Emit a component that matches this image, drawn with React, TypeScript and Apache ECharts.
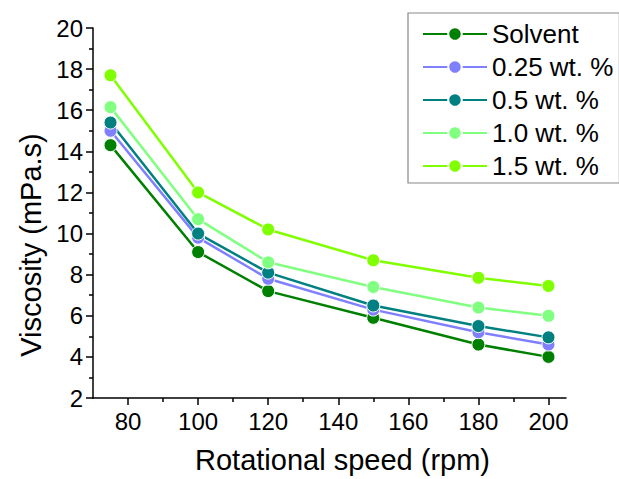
import React, { useEffect, useRef } from "react";
import * as echarts from "echarts";

const speeds = [75, 100, 120, 150, 180, 200];
const seriesNames = ["Solvent", "0.25 wt. %", "0.5 wt. %", "1.0 wt. %", "1.5 wt. %"];
const solvent = [14.3, 9.1, 7.2, 5.9, 4.6, 4.0];
const wt025 = [15.0, 9.8, 7.8, 6.3, 5.2, 4.6];
const wt05 = [15.4, 10.0, 8.1, 6.5, 5.5, 4.95];
const wt10 = [16.15, 10.7, 8.6, 7.4, 6.4, 6.0];
const wt15 = [17.7, 12.0, 10.2, 8.7, 7.85, 7.45];
const seriesValues = [solvent, wt025, wt05, wt10, wt15];
const colors = ["#008000", "#8080FF", "#008080", "#80FF80", "#80FF00"];
const xMajorTicks = [80, 100, 120, 140, 160, 180, 200];
const xMinorTicks = [90, 110, 130, 150, 170, 190];

const FONT = "'Liberation Sans', Arial, sans-serif";

export default function App() {
  const ref = useRef<HTMLDivElement>(null);
  useEffect(() => {
    if (!ref.current) return;
    const chart = echarts.init(ref.current, null, { renderer: "svg" });
    const axisLine = { show: true, onZero: false, lineStyle: { color: "#000", width: 1.5 } };
    chart.setOption({
      animation: false,
      backgroundColor: "#fff",
      textStyle: { fontFamily: FONT },
      grid: { left: 93, right: 53, top: 28, bottom: 78, containLabel: false },
      legend: {
        orient: "vertical",
        left: 408,
        top: 13,
        data: seriesNames,
        itemWidth: 64,
        itemHeight: 17,
        itemGap: 7,
        padding: [8, 6, 4, 14],
        borderColor: "#888",
        borderWidth: 1.2,
        textStyle: { fontSize: 26, color: "#000", fontFamily: FONT, lineHeight: 26 },
      },
      xAxis: [
        {
          type: "value",
          min: 70,
          max: 205,
          name: "Rotational speed (rpm)",
          nameLocation: "middle",
          nameGap: 47,
          nameTextStyle: { fontSize: 29, color: "#000", fontFamily: FONT, padding: [0, 0, 0, 26] },
          axisLine,
          axisTick: { show: true, length: 7, customValues: xMajorTicks, lineStyle: { color: "#000", width: 1.5 } },
          axisLabel: { show: true, customValues: xMajorTicks, fontSize: 24, color: "#000", margin: 11, fontFamily: FONT },
          splitLine: { show: false },
        },
        {
          type: "value",
          min: 70,
          max: 205,
          position: "bottom",
          axisLine: { show: false },
          axisTick: { show: true, length: 4, customValues: xMinorTicks, lineStyle: { color: "#000", width: 1.5 } },
          axisLabel: { show: false },
          splitLine: { show: false },
        },
      ],
      yAxis: {
        type: "value",
        min: 2,
        max: 20,
        interval: 2,
        name: "Viscosity (mPa.s)",
        nameLocation: "middle",
        nameGap: 46,
        nameTextStyle: { fontSize: 29, color: "#000", fontFamily: FONT, padding: [0, 64, 0, 0] },
        axisLine,
        axisTick: { show: true, length: 7, lineStyle: { color: "#000", width: 1.5 } },
        minorTick: { show: true, splitNumber: 2, length: 4, lineStyle: { color: "#000", width: 1.5 } },
        axisLabel: { fontSize: 24, color: "#000", margin: 10, fontFamily: FONT },
        splitLine: { show: false },
      },
      series: seriesNames.map((name, i) => ({
        name,
        type: "line",
        xAxisIndex: 0,
        data: speeds.map((s, j) => [s, seriesValues[i][j]]),
        symbol: "circle",
        symbolSize: 13,
        color: colors[i],
        lineStyle: { width: 2.5, color: colors[i] },
        itemStyle: { color: colors[i], borderColor: "#fff", borderWidth: 1 },
        emphasis: { disabled: true },
      })),
    });
    return () => chart.dispose();
  }, []);
  return (
    <div
      ref={ref}
      style={{ position: "absolute", left: 0, top: 0, width: 619, height: 479 }}
    />
  );
}
